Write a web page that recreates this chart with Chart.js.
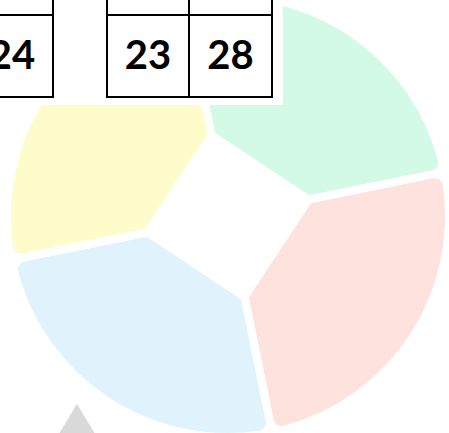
<!DOCTYPE html>
<html>
<head>
<meta charset="utf-8">
<script src="https://cdn.jsdelivr.net/npm/chart.js@4"></script>
<style>
  html, body { margin: 0; padding: 0; background: #fff; }
  body { width: 449px; height: 433px; position: relative; overflow: hidden; }
  #wrap { position: absolute; left: 3px; top: -9px; width: 450px; height: 450px; }
  #holeWrap { position: absolute; left: 140px; top: 128px; width: 176px; height: 176px; }
  #cover { position: absolute; left: 0; top: 0; width: 283px; height: 105px; background: #fff; }
  .cell {
    position: absolute; box-sizing: border-box; border: 2px solid #000;
    font-family: Lato, "Open Sans", sans-serif; font-weight: 700; font-size: 40px;
    color: #000; text-align: center; line-height: 76px;
  }
  #tri {
    position: absolute; left: 0; top: 0; width: 449px; height: 433px; background: #d9d9d9;
    clip-path: polygon(77px 404px, 97px 437px, 57px 437px);
  }
</style>
</head>
<body>
<div id="wrap"><canvas id="ringChart"></canvas></div>
<div id="holeWrap"><canvas id="holeChart"></canvas></div>
<div id="tri"></div>
<div id="cover"></div>

<script>
// valores
const categories = ['A', 'B', 'C', 'D'];
const values = [25, 25, 25, 25];
const segmentColors = ['#d2fae6', '#fde2de', '#e0f3fc', '#fffccc'];
const tableValues = [24, 23, 28];

// tabelas por cima do gráfico
const cells = [
  [-30, -40, 84, 56, ''], [-30, 14, 84, 84, tableValues[0]],
  [106, -40, 84, 56, ''], [188, -40, 85, 56, ''],
  [106, 14, 84, 84, tableValues[1]], [188, 14, 85, 84, tableValues[2]]
];
const cover = document.getElementById('cover');
cells.forEach(c => {
  const d = document.createElement('div');
  d.className = 'cell';
  d.style.left = c[0] + 'px';
  d.style.top = c[1] + 'px';
  d.style.width = c[2] + 'px';
  d.style.height = c[3] + 'px';
  d.textContent = c[4];
  cover.appendChild(d);
});

const baseOptions = {
  responsive: true,
  maintainAspectRatio: false,
  animation: false,
  events: [],
  rotation: -11.5,
  layout: { padding: 0 },
  plugins: {
    legend: { display: false },
    tooltip: { enabled: false }
  }
};

// anel colorido
const ringChart = new Chart(document.getElementById('ringChart'), {
  type: 'doughnut',
  data: {
    labels: categories,
    datasets: [{
      data: values,
      backgroundColor: segmentColors,
      borderColor: '#ffffff',
      borderWidth: 8,
      borderRadius: 12
    }]
  },
  options: Object.assign({}, baseOptions, { cutout: '20%' })
});

// miolo branco com lados retos (arcos não circulares)
const holeChart = new Chart(document.getElementById('holeChart'), {
  type: 'pie',
  data: {
    labels: categories,
    datasets: [{
      data: values,
      backgroundColor: '#ffffff',
      borderWidth: 0,
      circular: false
    }]
  },
  options: baseOptions
});
</script>
</body>
</html>
